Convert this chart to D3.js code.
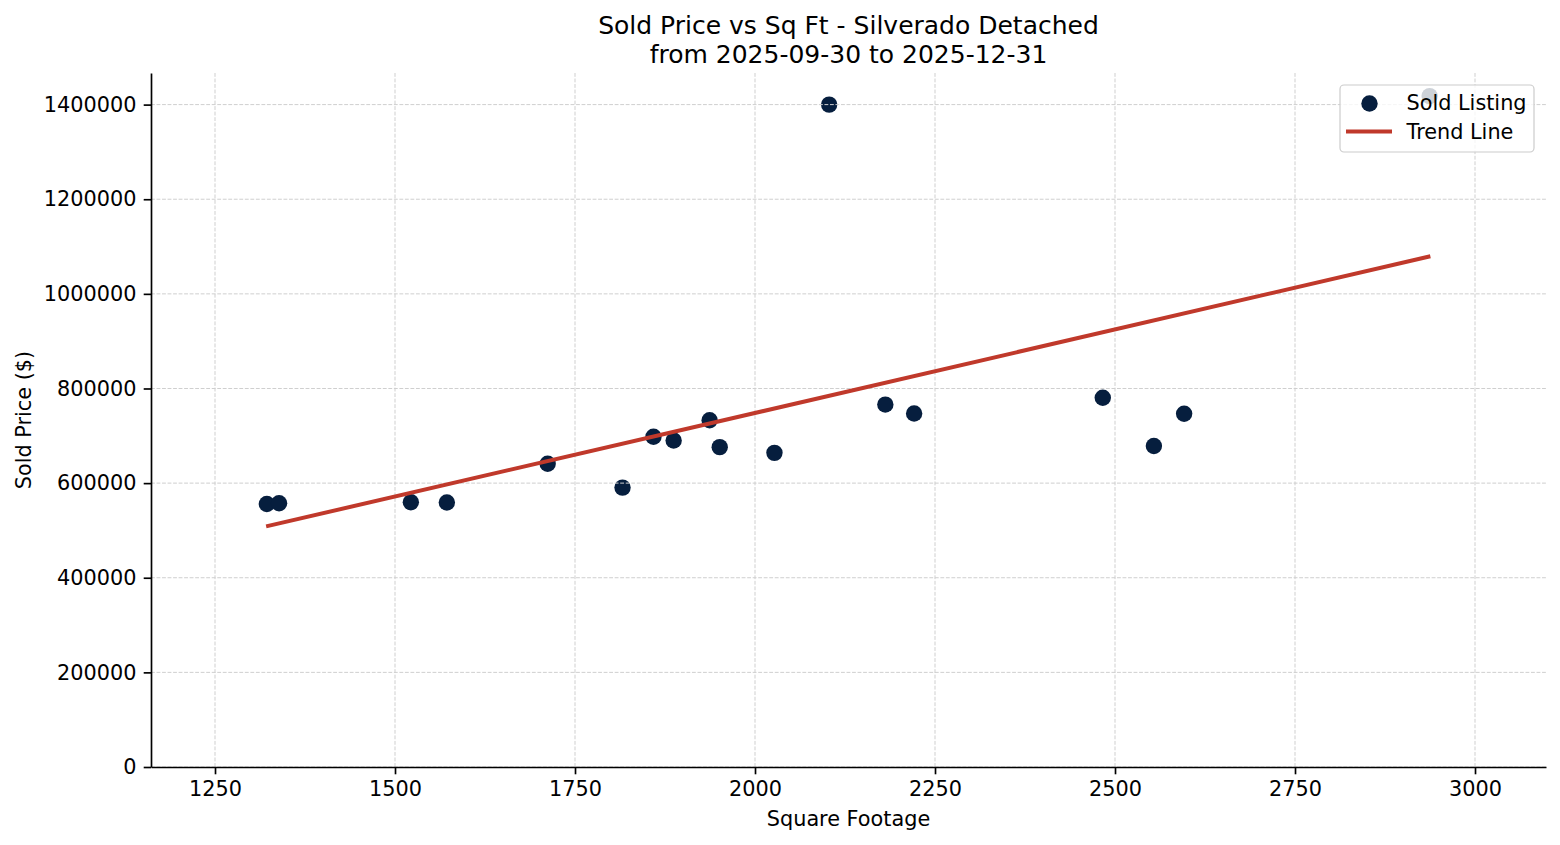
<!DOCTYPE html>
<html>
<head>
<meta charset="utf-8">
<script src="https://cdn.jsdelivr.net/npm/d3@7"></script>
<style>
  html, body { margin: 0; padding: 0; background: #fff; }
  svg { display: block; font-family: "DejaVu Sans", sans-serif; }
</style>
</head>
<body>
<svg id="chart" width="1560" height="845"></svg>
<script>
// ---- data ----
const sqft  = [1322, 1339, 1522, 1572, 1712, 1816, 1859, 1887, 1937, 1951, 2027, 2103, 2181, 2221, 2483, 2554, 2596, 2937];
const price = [556000, 557500, 559500, 559000, 641000, 590500, 698000, 690000, 733000, 676000, 664000, 1400000, 766000, 747000, 780500, 678500, 746500, 1418000];
const trendX = [1321, 2938];
const trendY = [508500, 1079500];
const xTicks = [1250, 1500, 1750, 2000, 2250, 2500, 2750, 3000];
const yTicks = [0, 200000, 400000, 600000, 800000, 1000000, 1200000, 1400000];
const titleLines = ["Sold Price vs Sq Ft - Silverado Detached", "from 2025-09-30 to 2025-12-31"];
const legendLabels = ["Sold Listing", "Trend Line"];

// ---- layout ----
const W = 1560, H = 845;
const plot = { left: 151, right: 1546, top: 73, bottom: 767 };
const dotColor = "#061e3e";
const trendColor = "#c0392b";
const fs = 20.8;

const svg = d3.select("#chart");
const x = d3.scaleLinear().domain([1161.1, 3098.6]).range([plot.left, plot.right]);
const y = d3.scaleLinear().domain([0, 1466800]).range([plot.bottom, plot.top]);

const points = sqft.map((s, i) => ({ x: s, y: price[i] }));

// dots (drawn below grid, as in matplotlib)
svg.append("g").selectAll("circle").data(points).join("circle")
  .attr("cx", d => x(d.x)).attr("cy", d => y(d.y)).attr("r", 8.2)
  .attr("fill", dotColor);

// grid
const grid = svg.append("g")
  .attr("stroke", "#cfcfcf").attr("stroke-width", 1).attr("stroke-dasharray", "3.85,1.67");
grid.selectAll("line.v").data(xTicks).join("line").attr("class", "v")
  .attr("x1", d => x(d)).attr("x2", d => x(d)).attr("y1", plot.top).attr("y2", plot.bottom);
grid.selectAll("line.h").data(yTicks).join("line").attr("class", "h")
  .attr("x1", plot.left).attr("x2", plot.right).attr("y1", d => y(d)).attr("y2", d => y(d));

// trend line
const trendData = trendX.map((t, i) => [t, trendY[i]]);
svg.append("path").datum(trendData)
  .attr("d", d3.line().x(d => x(d[0])).y(d => y(d[1])))
  .attr("fill", "none").attr("stroke", trendColor).attr("stroke-width", 4);

// axes
const xAxis = svg.append("g").attr("transform", `translate(0,${plot.bottom})`)
  .call(d3.axisBottom(x).tickValues(xTicks).tickFormat(d3.format("d"))
    .tickSize(7.3).tickSizeOuter(0).tickPadding(7.3));
const yAxis = svg.append("g").attr("transform", `translate(${plot.left},0)`)
  .call(d3.axisLeft(y).tickValues(yTicks).tickFormat(d3.format("d"))
    .tickSize(7.3).tickSizeOuter(0).tickPadding(7.3));
[xAxis, yAxis].forEach(a => {
  a.attr("font-family", "DejaVu Sans, sans-serif").attr("font-size", fs);
  a.selectAll("path.domain").attr("stroke", "#000").attr("stroke-width", 1.67);
  a.selectAll(".tick line").attr("stroke", "#000").attr("stroke-width", 1.67);
  a.selectAll(".tick text").attr("fill", "#000");
});

// axis labels
svg.append("text").attr("x", (plot.left + plot.right) / 2).attr("y", 826)
  .attr("text-anchor", "middle").attr("font-size", fs).attr("fill", "#000")
  .text("Square Footage");
svg.append("text").attr("transform", `translate(31,${(plot.top + plot.bottom) / 2}) rotate(-90)`)
  .attr("text-anchor", "middle").attr("font-size", fs).attr("fill", "#000")
  .text("Sold Price ($)");

// title
svg.append("g").selectAll("text").data(titleLines).join("text")
  .attr("x", (plot.left + plot.right) / 2).attr("y", (d, i) => 34.3 + i * 28.4)
  .attr("text-anchor", "middle").attr("font-size", 25).attr("fill", "#000")
  .text(d => d);

// legend
const lg = svg.append("g");
lg.append("rect").attr("x", 1340).attr("y", 85).attr("width", 194).attr("height", 67)
  .attr("rx", 4).attr("fill", "rgba(255,255,255,0.8)").attr("stroke", "#cccccc").attr("stroke-width", 1.2);
lg.append("circle").attr("cx", 1369.5).attr("cy", 103.5).attr("r", 8.2).attr("fill", dotColor);
lg.append("line").attr("x1", 1346).attr("x2", 1392).attr("y1", 131.5).attr("y2", 131.5)
  .attr("stroke", trendColor).attr("stroke-width", 4);
lg.selectAll("text").data(legendLabels).join("text")
  .attr("x", 1406.5).attr("y", (d, i) => 109.5 + i * 29)
  .attr("font-size", fs).attr("fill", "#000").text(d => d);
</script>
</body>
</html>
